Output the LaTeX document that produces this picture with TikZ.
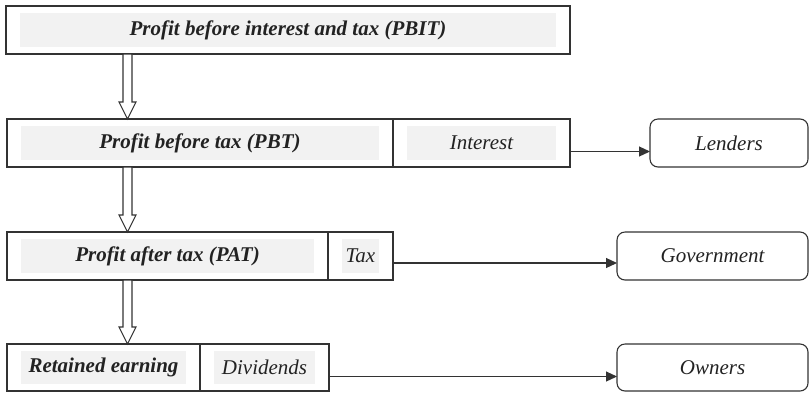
\documentclass[tikz,border=0pt]{standalone}
\usepackage{fontspec}
\setmainfont{Liberation Serif}
\usetikzlibrary{arrows.meta,calc}

\definecolor{linegray}{HTML}{333333}
\definecolor{panelgray}{HTML}{F2F2F2}
\definecolor{inkgray}{HTML}{222222}

\tikzset{
  cellbox/.style={draw=linegray, line width=1.3pt, inner sep=0pt, outer sep=0pt},
  panel/.style={fill=panelgray, inner sep=0pt, outer sep=0pt, text=inkgray,
                font=\fontsize{21}{25}\selectfont},
  mainlabel/.style={panel, font=\fontsize{21}{25}\selectfont\bfseries\itshape},
  sidelabel/.style={panel, font=\fontsize{21}{25}\selectfont\itshape},
  party/.style={draw=linegray, line width=1.1pt, rounded corners=8pt, inner sep=0pt,
                outer sep=0pt, text=inkgray, font=\fontsize{21}{25}\selectfont\itshape},
  flow/.style={draw=linegray, line width=1.1pt, -{Triangle[length=11pt,width=10pt]}},
  blockarrow/.style={draw=linegray, line width=1.1pt, fill=white, line join=miter}
}

% a framed cell with a grey text panel inset inside it
% #1 name, #2 x1, #3 y1, #4 x2, #5 y2, #6 label style, #7 text
\newcommand\framedcell[7]{%
  \pgfmathsetmacro\cw{#4-#2}\pgfmathsetmacro\ch{#5-#3}%
  \pgfmathsetmacro\pw{#4-#2-28}\pgfmathsetmacro\ph{#5-#3-14}%
  \node[cellbox, minimum width=\cw pt, minimum height=\ch pt] (#1) at ({(#2+#4)/2},{(#3+#5)/2}) {};
  \node[#6, minimum width=\pw pt, minimum height=\ph pt] (#1T) at (#1.center) {#7};
}

% hollow downward block arrow between two points
\newcommand\downblock[2]{%
  \path[blockarrow] ($(#1)+(-4.5,0)$) -- ($(#2)+(-4.5,-17)$) -- ($(#2)+(-8.5,-17)$)
    -- (#2) -- ($(#2)+(8.5,-17)$) -- ($(#2)+(4.5,-17)$) -- ($(#1)+(4.5,0)$) -- cycle;
}

\begin{document}
\begin{tikzpicture}[x=1pt, y=-1pt]
  \useasboundingbox (0,0) rectangle (810,392);

  % income levels
  \framedcell{pbit}{6}{6}{570}{54}{mainlabel}{Profit before interest and tax (PBIT)}
  \framedcell{pbt}{7}{119}{393}{167}{mainlabel}{Profit before tax (PBT)}
  \framedcell{interest}{393}{119}{570}{167}{sidelabel}{Interest}
  \framedcell{pat}{7}{232}{328}{280}{mainlabel}{Profit after tax (PAT)}
  \framedcell{tax}{328}{232}{393}{280}{sidelabel}{Tax}
  \framedcell{retained}{7}{344}{200}{391}{mainlabel}{Retained earning}
  \framedcell{dividends}{200}{344}{329}{391}{sidelabel}{Dividends}

  % recipients
  \node[party, minimum width=158pt, minimum height=48pt] (lenders) at (729,143) {Lenders};
  \node[party, minimum width=191pt, minimum height=48pt] (government) at (712.5,256) {Government};
  \node[party, minimum width=191pt, minimum height=47pt] (owners) at (712.5,367.5) {Owners};

  % flow down the statement
  \coordinate (a1s) at (127.5,0 |- pbit.south);
  \coordinate (a1e) at (127.5,0 |- pbt.north);
  \coordinate (a2s) at (127.5,0 |- pbt.south);
  \coordinate (a2e) at (127.5,0 |- pat.north);
  \coordinate (a3s) at (127.5,0 |- pat.south);
  \coordinate (a3e) at (127.5,0 |- retained.north);
  \downblock{a1s}{a1e}
  \downblock{a2s}{a2e}
  \downblock{a3s}{a3e}

  % payments to each party
  \draw[flow] ([yshift=-8.5pt]interest.east) -- ([yshift=-8.5pt]lenders.west);
  \draw[flow] ([yshift=-7pt]tax.east) -- ([yshift=-7pt]government.west);
  \draw[flow] ([yshift=-9pt]dividends.east) -- ([yshift=-9pt]owners.west);
\end{tikzpicture}
\end{document}
